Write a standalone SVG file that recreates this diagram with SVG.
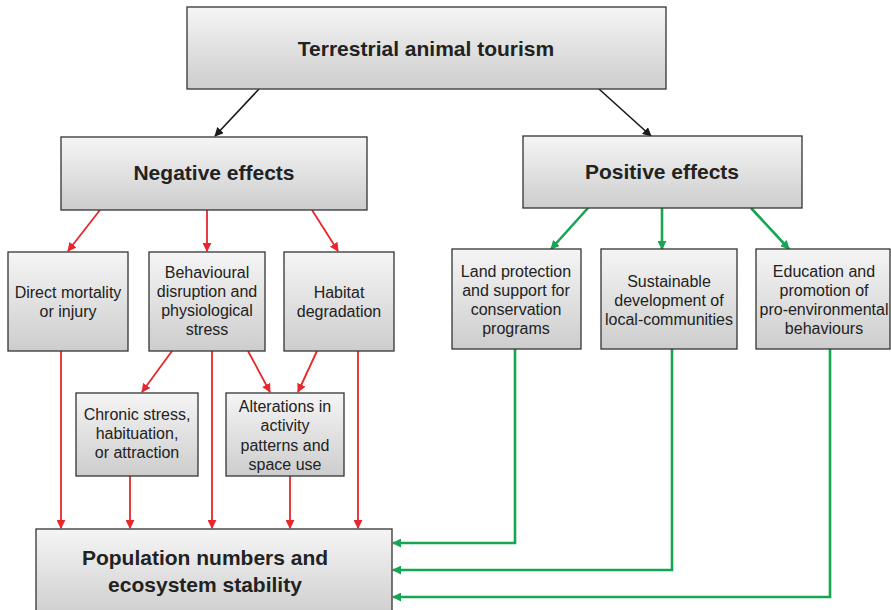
<svg xmlns="http://www.w3.org/2000/svg" width="891" height="610" viewBox="0 0 891 610">
<defs>
<linearGradient id="g" x1="0" y1="0" x2="0" y2="1">
<stop offset="0" stop-color="#f5f5f5"/>
<stop offset="1" stop-color="#cdcdcd"/>
</linearGradient>
<marker id="ak" viewBox="0 0 10 10" refX="9" refY="5" markerWidth="9" markerHeight="9" markerUnits="userSpaceOnUse" orient="auto"><path d="M0,0 L10,5 L0,10 z" fill="#1a1a1a"/></marker>
<marker id="ar" viewBox="0 0 10 10" refX="9" refY="5" markerWidth="9" markerHeight="9" markerUnits="userSpaceOnUse" orient="auto"><path d="M0,0 L10,5 L0,10 z" fill="#e8262b"/></marker>
<marker id="ag" viewBox="0 0 10 10" refX="9" refY="5" markerWidth="9" markerHeight="9" markerUnits="userSpaceOnUse" orient="auto"><path d="M0,0 L10,5 L0,10 z" fill="#14a650"/></marker>
</defs>
<style>
.box{fill:url(#g);stroke:#333;stroke-width:1.3}
.t{font-family:"Liberation Sans",Arial,sans-serif;font-size:16px;fill:#222;text-anchor:middle}
.b{font-family:"Liberation Sans",Arial,sans-serif;font-size:21px;font-weight:bold;fill:#222;text-anchor:middle}
.k{stroke:#1a1a1a;stroke-width:1.6;fill:none;marker-end:url(#ak)}
.r{stroke:#e8262b;stroke-width:1.8;fill:none;marker-end:url(#ar)}
.gr{stroke:#14a650;stroke-width:2.6;fill:none;marker-end:url(#ag)}
</style>
<rect width="891" height="610" fill="#fff"/>
<g id="connectors">
<line class="k" x1="259" y1="89" x2="215" y2="136"/>
<line class="k" x1="599" y1="89" x2="651" y2="136"/>
<line class="r" x1="100" y1="210" x2="68" y2="251"/>
<line class="r" x1="207" y1="210" x2="207" y2="251"/>
<line class="r" x1="312" y1="210" x2="338" y2="251"/>
<line class="gr" x1="588" y1="208" x2="551" y2="249"/>
<line class="gr" x1="662" y1="208" x2="662" y2="249"/>
<line class="gr" x1="751" y1="208" x2="789" y2="249"/>
<line class="r" x1="172" y1="351" x2="142" y2="392"/>
<line class="r" x1="248" y1="351" x2="270" y2="392"/>
<line class="r" x1="317" y1="351" x2="298" y2="392"/>
<line class="r" x1="61" y1="351" x2="61" y2="528"/>
<line class="r" x1="130" y1="476" x2="130" y2="528"/>
<line class="r" x1="212" y1="351" x2="212" y2="528"/>
<line class="r" x1="290" y1="476" x2="290" y2="528"/>
<line class="r" x1="358" y1="351" x2="358" y2="528"/>
<polyline class="gr" points="515,349 515,543 393,543"/>
<polyline class="gr" points="672,349 672,570 393,570"/>
<polyline class="gr" points="830,349 830,597 393,597"/>
</g>
<g id="top"><rect class="box" x="187" y="7" width="479" height="82"/><text class="b" x="426" y="56">Terrestrial animal tourism</text></g>
<g id="negative"><rect class="box" x="61" y="137" width="306" height="73"/><text class="b" x="214" y="180">Negative effects</text></g>
<g id="positive"><rect class="box" x="523" y="136" width="279" height="72"/><text class="b" x="662" y="179">Positive effects</text></g>
<g id="mortality"><rect class="box" x="8" y="252" width="120" height="99"/><text class="t" x="68" y="298">Direct mortality</text><text class="t" x="68" y="317">or injury</text></g>
<g id="behavioural"><rect class="box" x="149" y="252" width="116" height="99"/><text class="t" x="207" y="278">Behavioural</text><text class="t" x="207" y="297">disruption and</text><text class="t" x="207" y="316">physiological</text><text class="t" x="207" y="335">stress</text></g>
<g id="habitat"><rect class="box" x="284" y="252" width="110" height="99"/><text class="t" x="339" y="298">Habitat</text><text class="t" x="339" y="317">degradation</text></g>
<g id="land"><rect class="box" x="452" y="249" width="129" height="100"/><text class="t" x="516" y="277">Land protection</text><text class="t" x="516" y="296">and support for</text><text class="t" x="516" y="315">conservation</text><text class="t" x="516" y="334">programs</text></g>
<g id="sustainable"><rect class="box" x="601" y="249" width="136" height="100"/><text class="t" x="669" y="287">Sustainable</text><text class="t" x="669" y="306">development of</text><text class="t" x="669" y="325">local-communities</text></g>
<g id="education"><rect class="box" x="756" y="249" width="134" height="100"/><text class="t" x="824" y="277">Education and</text><text class="t" x="824" y="296">promotion of</text><text class="t" x="824" y="315">pro-environmental</text><text class="t" x="824" y="334">behaviours</text></g>
<g id="chronic"><rect class="box" x="76" y="393" width="122" height="83"/><text class="t" x="137" y="420">Chronic stress,</text><text class="t" x="137" y="439">habituation,</text><text class="t" x="137" y="458">or attraction</text></g>
<g id="alterations"><rect class="box" x="226" y="393" width="118" height="83"/><text class="t" x="285" y="412">Alterations in</text><text class="t" x="285" y="431">activity</text><text class="t" x="285" y="451">patterns and</text><text class="t" x="285" y="470">space use</text></g>
<g id="population"><rect class="box" x="36" y="529" width="356" height="90"/><text class="b" x="205" y="565">Population numbers and</text><text class="b" x="205" y="592">ecosystem stability</text></g>
</svg>
